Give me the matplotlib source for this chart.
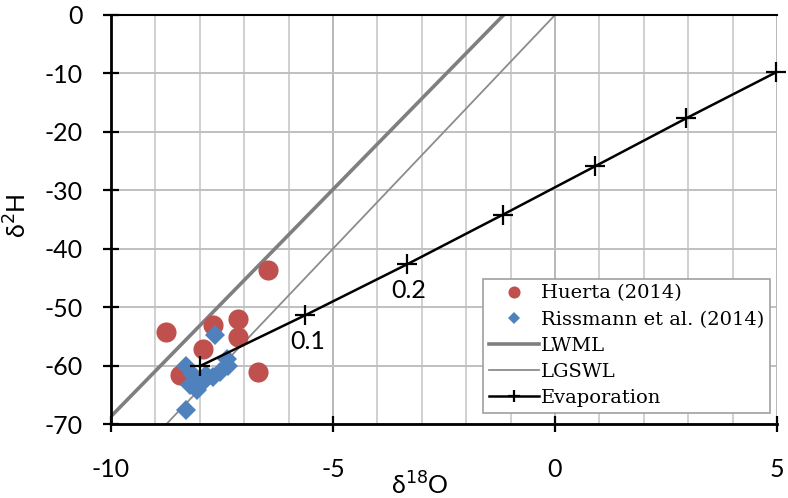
import matplotlib
matplotlib.use('Agg')
import matplotlib.pyplot as plt
from matplotlib.ticker import MultipleLocator

# Huerta (2014)
huerta_o = [-6.46, -8.76, -7.70, -7.15, -7.15, -7.93, -8.45, -6.70]
huerta_h = [-43.7, -54.3, -53.1, -52.0, -55.1, -57.2, -61.6, -61.1]

# Rissmann et al. (2014)
riss_o = [-7.66, -8.30, -7.38, -8.15, -7.85, -7.55, -7.36, -8.07, -8.22, -8.30, -7.92, -7.70]
riss_h = [-54.8, -60.0, -58.8, -61.6, -61.6, -61.1, -60.0, -64.2, -63.4, -67.6, -62.8, -61.9]

# meteoric / groundwater lines: slope, intercept
lwml = (7.77, 9.0)
lgswl = (8.0, 0.0)
line_x = [-10.5, 0.5]

# evaporation trend
evap_o = [-8.0, -5.63, -3.34, -1.18, 0.90, 2.95, 4.98]
evap_h = [-60.1, -51.4, -42.7, -34.2, -25.9, -17.7, -9.8]
evap_labels = {1: '0.1', 2: '0.2'}

plt.rcParams['axes.unicode_minus'] = False
plt.rcParams['font.family'] = ['Lato', 'DejaVu Sans']

fig = plt.figure(figsize=(7.88, 4.98), dpi=100)
ax = fig.add_axes([111/788, 1-424/498, 666/788, 409/498])

ax.set_xlim(-10, 5)
ax.set_ylim(-70, 0)
ax.xaxis.set_major_locator(MultipleLocator(5))
ax.xaxis.set_minor_locator(MultipleLocator(1))
ax.yaxis.set_major_locator(MultipleLocator(10))
ax.grid(which='minor', axis='x', color='#d0d0d0', lw=1.4)
ax.grid(which='major', axis='x', color='#b8b8b8', lw=1.4)
ax.grid(which='major', axis='y', color='#c0c0c0', lw=1.4)
ax.set_axisbelow(True)

for s in ['left', 'bottom']:
    ax.spines[s].set_linewidth(2)
ax.spines['top'].set_linewidth(1.5)
ax.spines['right'].set_visible(False)
ax.tick_params(which='major', direction='inout', length=11, width=1.6,
               labelsize=18)
ax.tick_params(axis='x', pad=19)
ax.tick_params(axis='y', pad=15)
ax.tick_params(which='minor', length=0)

def f(p, xs):
    return [p[0]*x + p[1] for x in xs]

ax.plot(line_x, f(lwml, line_x), color='#7f7f7f', lw=2.6, label='LWML', zorder=2)
ax.plot(line_x, f(lgswl, line_x), color='#8c8c8c', lw=1.3, label='LGSWL', zorder=2)

ax.plot(huerta_o, huerta_h, 'o', color='#c0504d', ms=14.5, mew=0,
        ls='none', label='Huerta (2014)', zorder=3)
ax.plot(riss_o, riss_h, 'D', color='#4f81bd', ms=10, mew=0,
        ls='none', label='Rissmann et al. (2014)', zorder=4)
ax.plot(evap_o, evap_h, '-+', color='black', lw=1.8, ms=14, mew=1.6,
        label='Evaporation', zorder=5, clip_on=False)

for i, t in evap_labels.items():
    ax.text(evap_o[i] + 0.05, evap_h[i] - 2.5, t, ha='center', va='top', fontsize=18)

handles, labels = ax.get_legend_handles_labels()
order = [2, 3, 0, 1, 4]
leg = ax.legend([handles[i] for i in order], [labels[i] for i in order],
                loc='lower right', bbox_to_anchor=(0.99, 0.027), borderaxespad=0,
                prop={'family': 'DejaVu Serif', 'size': 14}, fancybox=False,
                edgecolor='#a0a0a0', framealpha=1, handlelength=2.6,
                handletextpad=0.1, labelspacing=0.42, borderpad=0.3,
                markerscale=0.6)
leg.get_frame().set_linewidth(1.2)

ax.set_xlabel('δ$^{18}$O', fontsize=18)
ax.xaxis.set_label_coords(0.464, -0.115)
ax.set_ylabel('δ$^{2}$H', fontsize=18)
ax.yaxis.set_label_coords(-0.12, 0.51)

plt.savefig('out.png', dpi=100)
